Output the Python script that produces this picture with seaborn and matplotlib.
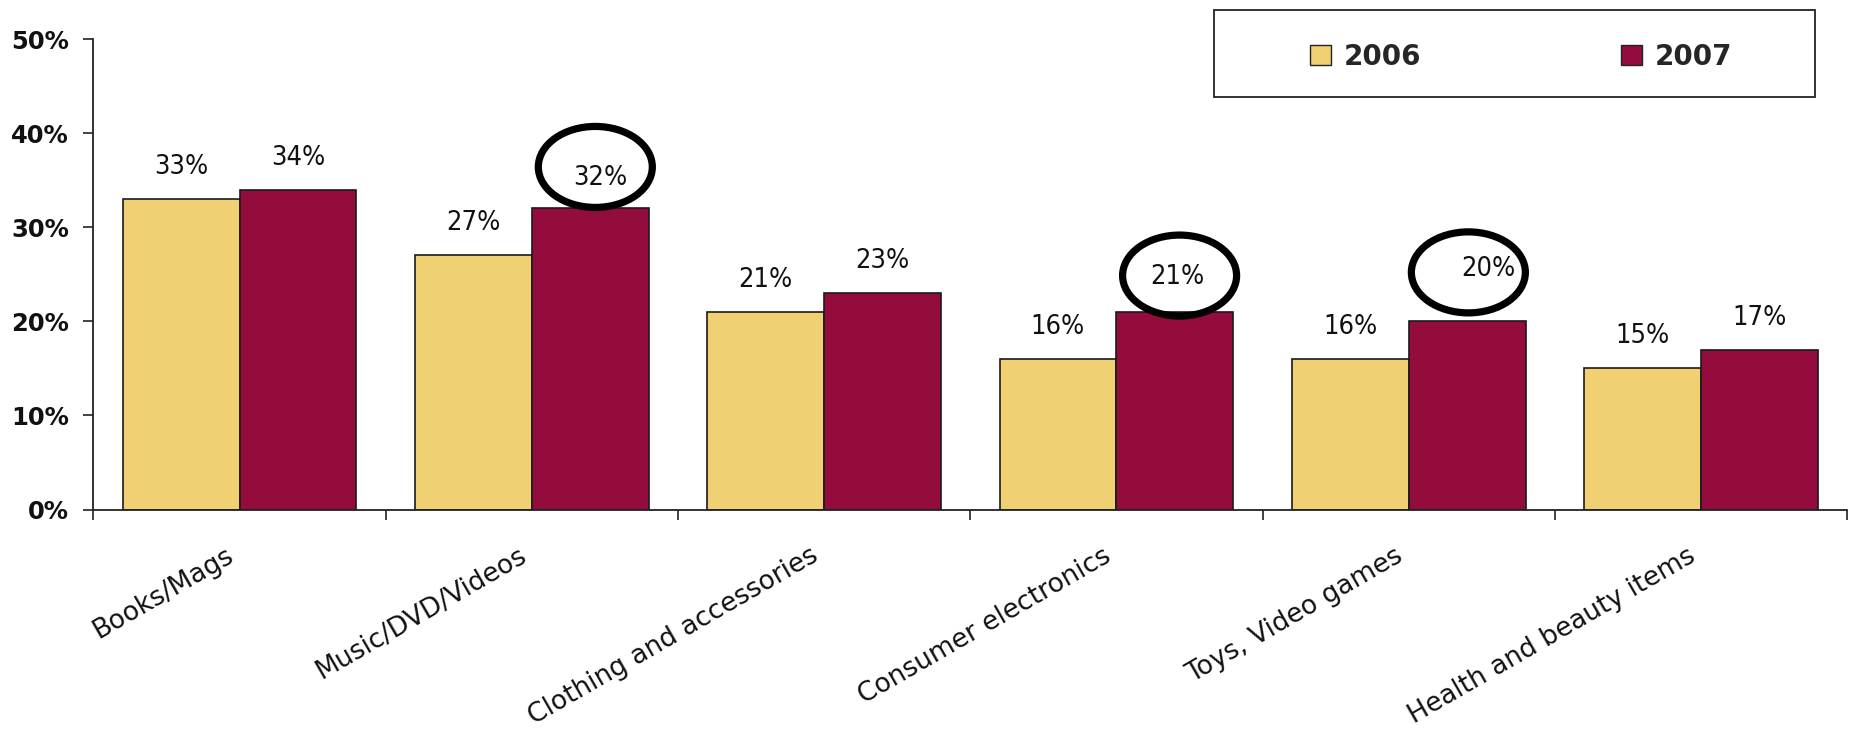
import matplotlib
matplotlib.use("Agg")
import matplotlib.pyplot as plt
import matplotlib.transforms as mtransforms
from matplotlib.patches import Ellipse, Rectangle
from matplotlib.ticker import FixedLocator, NullFormatter
import seaborn as sns
import pandas as pd

categories = ["Books/Mags", "Music/DVD/Videos", "Clothing and accessories",
              "Consumer electronics", "Toys, Video games", "Health and beauty items"]
years = ["2006", "2007"]
values_2006 = [33, 27, 21, 16, 16, 15]
values_2007 = [34, 32, 23, 21, 20, 17]
y_ticks = [0, 10, 20, 30, 40, 50]
highlighted = {1: (10, 30), 3: (2, 35), 4: (21, 52)}  # category index -> label offset (px) for circled 2007 values

colors = {"2006": "#F0D072", "2007": "#940C3E"}

df = pd.DataFrame({
    "category": categories * 2,
    "year": [years[0]] * len(categories) + [years[1]] * len(categories),
    "value": values_2006 + values_2007,
})

sns.set_theme(style="white")
plt.rcParams["font.family"] = ["DejaVu Sans"]

fig = plt.figure(figsize=(18.54, 7.32), dpi=100)
ax = fig.add_axes([0.0504, 0.3038, 0.9459, 0.6429])

sns.barplot(data=df, x="category", y="value", hue="year", palette=colors,
            width=0.8, gap=0, edgecolor="#1a1a1a", linewidth=1.2,
            saturation=1, legend=False, ax=ax)

ax.set_xlim(-0.5, len(categories) - 0.5)
ax.set_ylim(0, 50)
ax.set_xlabel("")
ax.set_ylabel("")

# y axis
ax.set_yticks(y_ticks)
ax.set_yticklabels([f"{t}%" for t in y_ticks], fontsize=17.5, fontweight="bold", color="#111111")
ax.tick_params(axis="y", direction="out", length=7.5, width=1.2, color="#222222", pad=10, left=True)

# x axis: labels at category centres, tick marks between groups
ax.set_xticks(range(len(categories)))
ax.set_xticklabels(categories, rotation=30, ha="right", rotation_mode="anchor",
                   fontsize=19, color="#111111")
ax.tick_params(axis="x", which="major", length=0, pad=24)
ax.xaxis.set_minor_locator(FixedLocator([i - 0.5 for i in range(len(categories) + 1)]))
ax.xaxis.set_minor_formatter(NullFormatter())
ax.tick_params(axis="x", which="minor", direction="out", length=7, width=1.2,
               color="#222222", bottom=True)
shift = mtransforms.ScaledTranslation(-14 / 100, 0, fig.dpi_scale_trans)
for lab in ax.get_xticklabels():
    lab.set_transform(lab.get_transform() + shift)

for side in ["top", "right"]:
    ax.spines[side].set_visible(False)
for side in ["left", "bottom"]:
    ax.spines[side].set_color("#222222")
    ax.spines[side].set_linewidth(1.3)
ax.grid(False)

# value labels and highlight ellipses
px = 72 / 100
for container, year in zip(ax.containers, years):
    for i, bar in enumerate(container):
        h = bar.get_height()
        xc = bar.get_x() + bar.get_width() / 2
        dx, dy = 0, 32
        if year == "2007" and i in highlighted:
            dx, dy = highlighted[i]
            trans = fig.dpi_scale_trans + mtransforms.ScaledTranslation(xc, h, ax.transData)
            ell_dx = {1: 5, 3: 4.7, 4: 1.2}[i]
            ell_dy = {1: 41.5, 3: 36.4, 4: 49}[i]
            ax.add_patch(Ellipse((ell_dx / 100, ell_dy / 100), 1.14, 0.81, transform=trans,
                                 fill=False, edgecolor="black", linewidth=5.2,
                                 clip_on=False, zorder=5))
        ax.annotate(f"{h:.0f}%", (xc, h), xytext=(dx * px, dy * px), textcoords="offset points",
                    ha="center", va="center", fontsize=19.5, fontstretch="condensed",
                    color="#111111", zorder=6)

# legend in a framed box
fig.patches.append(Rectangle((1214 / 1854, 1 - 97 / 732), (1815 - 1214) / 1854, (97 - 9.5) / 732,
                             transform=fig.transFigure, fill=False, edgecolor="#222222",
                             linewidth=1.3))
handles = [Rectangle((0, 0), 1, 1, facecolor=colors[y], edgecolor="#222222", linewidth=1.0)
           for y in years]
fig.legend(handles, years, loc="center", bbox_to_anchor=(1521 / 1854, 1 - 57 / 732),
           ncol=2, frameon=False, handlelength=0.75, handleheight=0.75,
           handletextpad=0.45, columnspacing=7.2,
           prop={"size": 20, "weight": "bold"})

fig.savefig("out.png", dpi=100, facecolor="white")
